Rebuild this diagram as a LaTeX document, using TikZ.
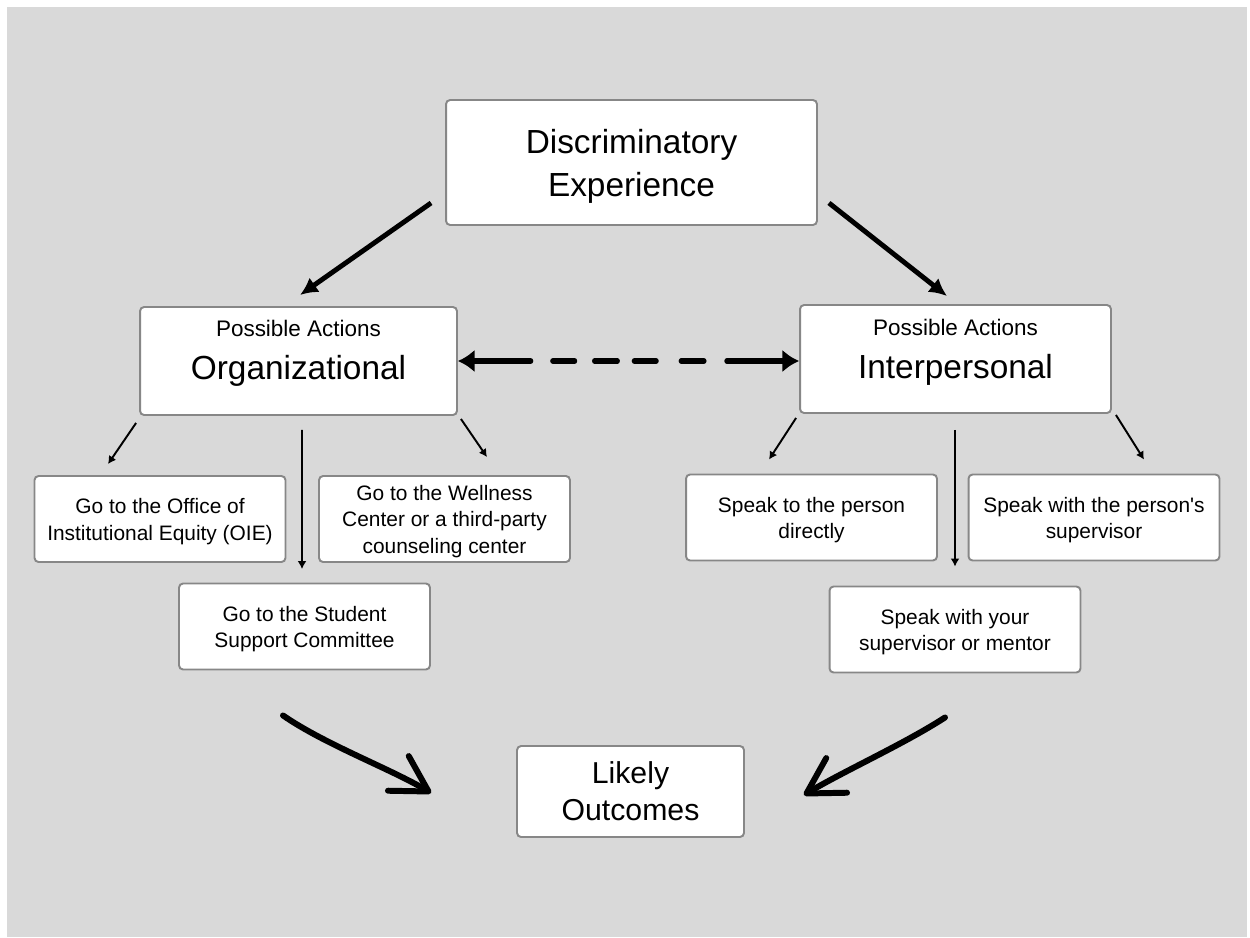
\documentclass[tikz,border=0pt]{standalone}
\usepackage{fontspec}
\setmainfont{Liberation Sans}
\usepackage{tikz}
\usetikzlibrary{arrows.meta}
\usetikzlibrary{calc}

\definecolor{bggray}{HTML}{D9D9D9}
\definecolor{boxgray}{HTML}{878787}

% strut that pushes the first text line a little lower in its card
\newcommand{\cardstrut}{\rule{0pt}{0.97em}}

\tikzset{
  card/.style={draw=boxgray,line width=1.1pt,fill=white,rounded corners=2.3pt,align=center,inner sep=0pt},
  smallcard/.style={card,minimum width=5.02cm,minimum height=1.72cm,font=\fontsize{11.9}{15.3}\selectfont},
  subtext/.style={font=\fontsize{12.8}{15}\selectfont,inner sep=0pt,anchor=base},
  nametext/.style={font=\fontsize{19}{24}\selectfont,inner sep=0pt,anchor=base},
  thinarrow/.style={-{Latex[length=4.5pt,width=5pt]},line width=1.1pt},
  thickarrow/.style={-{Latex[length=10pt,width=10pt]},line width=2.8pt},
  sketcharrow/.style={-{Straight Barb[length=20pt,width=23pt,round]},line width=3.4pt,line cap=round}
}

\begin{document}
\begin{tikzpicture}[x=0.02cm,y=-0.02cm]
\useasboundingbox (0,0) rectangle (1250,937);
\fill [bggray] (7,7) rectangle (1247,937);

\node (disc) [card,minimum width=7.42cm,minimum height=2.5cm,font=\fontsize{19}{24.4}\selectfont] at (631.5,162.5) {\cardstrut Discriminatory\\Experience};

\node (org) [card,minimum width=6.34cm,minimum height=2.16cm] at (298.5,361) {};
\node (orgsub) [subtext] at ($(org.north)+(0,30)$) {Possible Actions};
\node (orgname) [nametext] at ($(org.north)+(0,73)$) {Organizational};

\node (inter) [card,minimum width=6.22cm,minimum height=2.16cm] at (955.5,359) {};
\node (intersub) [subtext] at ($(inter.north)+(0,31)$) {Possible Actions};
\node (intername) [nametext] at ($(inter.north)+(0,74)$) {Interpersonal};

\node (oie) [smallcard] at (160,519) {\cardstrut Go to the Office of\\Institutional Equity (OIE)};
\node (well) [smallcard] at (444.5,519) {\cardstrut Go to the Wellness\\Center or a third-party\\counseling center};
\node (ssc) [smallcard] at (304.5,626.5) {\cardstrut Go to the Student\\Support Committee};

\node (direct) [smallcard] at (811.5,517.5) {\cardstrut Speak to the person\\directly};
\node (psup) [smallcard] at (1094,517.5) {\cardstrut Speak with the person\textquotesingle s\\supervisor};
\node (ysup) [smallcard] at (955,629.5) {\cardstrut Speak with your\\supervisor or mentor};

\node (out) [card,minimum width=4.54cm,minimum height=1.82cm,font=\fontsize{17.2}{21}\selectfont] at (630.5,791.5) {Likely\\Outcomes};

\draw [thickarrow] ($(disc.south west)+(-14,-23)$) -- ($(org.north)+(1.5,-11)$);
\draw [thickarrow] ($(disc.south east)+(11,-23)$) -- ($(inter.north)+(-8.5,-8)$);

\draw [{Latex[length=9.5pt,width=13pt]}-{Latex[length=9.5pt,width=13pt]},line width=2.9pt,line cap=round,
  dash pattern=on 32.9pt off 12.5pt on 12.5pt off 11.3pt on 13pt off 9.6pt on 12.5pt off 14.2pt on 13pt off 13pt on 120pt]
  ($(org.east)+(0,0)$) -- ($(inter.west)+(0,2)$);

\draw [thinarrow] ($(org.south west)+(-3,7)$) -- ($(oie.north)+(-52,-11)$);
\draw [thinarrow] ($(org.south)+(3.5,14)$) -- ($(ssc.north)+(-2.5,-13.5)$);
\draw [thinarrow] ($(org.south east)+(3,3)$) -- ($(well.north)+(42.5,-18)$);

\draw [thinarrow] ($(inter.south west)+(-3,4)$) -- ($(direct.north)+(-42.5,-14)$);
\draw [thinarrow] ($(inter.south)+(-0.5,16)$) -- ($(ysup.north)+(0,-19)$);
\draw [thinarrow] ($(inter.south east)+(4,1)$) -- ($(psup.north)+(50,-14)$);

\draw [sketcharrow] ($(ssc.south)+(-21.5,45)$) .. controls +(42,29) and +(-40,-24) .. ($(out.west)+(-85,1.5)$);
\draw [sketcharrow] ($(ysup.south)+(-10,44)$) .. controls +(-40,26) and +(40,-24) .. ($(out.east)+(59,3.5)$);
\end{tikzpicture}
\end{document}
